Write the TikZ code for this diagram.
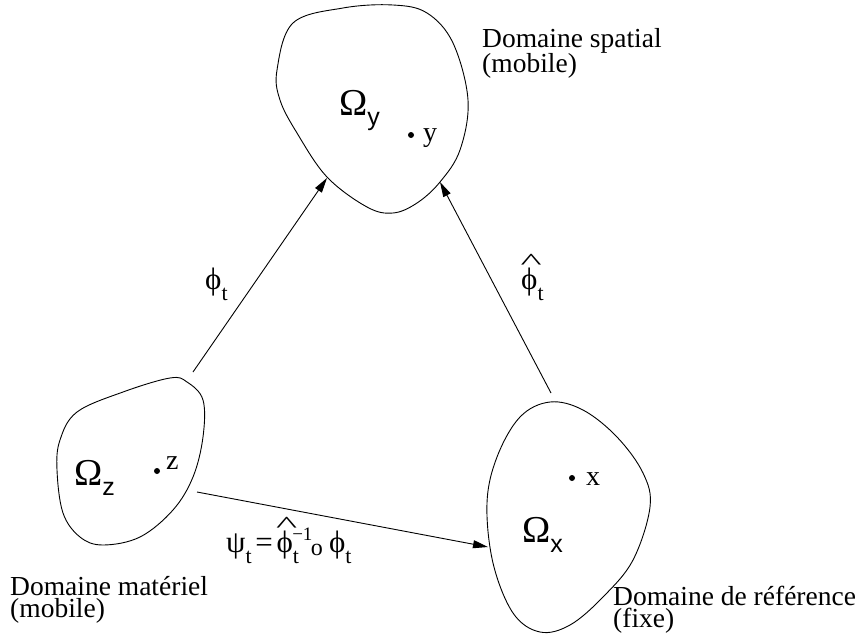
\documentclass[tikz,border=0pt]{standalone}
\usepackage{fontspec}
\setmainfont{Liberation Serif}
\newfontfamily\lsans{Liberation Sans}
\usetikzlibrary{arrows.meta}
\newcommand\subsans[1]{\raisebox{-0.28em}{\lsans\fontsize{25}{25}\selectfont #1}}
\newcommand\subt{\raisebox{-0.36em}{\fontsize{22}{22}\selectfont t}}
\newcommand\hatphi{\leavevmode\rlap{\raisebox{0.64em}{\hspace{-0.02em}\scalebox{1.45}[0.75]{\textasciicircum}}}ϕ}
\tikzset{
  blob/.style={draw, line width=0.9pt},
  conn/.style={draw, line width=0.9pt, -{Triangle[length=15pt,width=8pt]}},
  txt/.style={inner sep=0pt, anchor=base west, font=\fontsize{27.5}{21.5}\selectfont, align=left},
  omega/.style={inner sep=0pt, anchor=base west, font=\fontsize{38}{38}\selectfont},
  ptlab/.style={inner sep=0pt, anchor=base west, font=\fontsize{28}{28}\selectfont},
  maplab/.style={inner sep=0pt, anchor=base west, font=\fontsize{31}{31}\selectfont},
  dotm/.style={circle, fill, inner sep=0pt, minimum size=6pt}
}
\begin{document}
\begin{tikzpicture}[x=1pt,y=-1pt]
\useasboundingbox (0,0) rectangle (864,642);
% spatial domain (top)
\draw[blob] plot[smooth cycle, tension=0.6] coordinates {
 (277,70) (293,23) (343,8) (393,5) (427,13) (453,43) (468,100) (460,150)
 (440,182) (417,203) (393,213) (367,207) (327,177) (297,133) (280,100)};
% material domain (left)
\draw[blob] plot[smooth cycle, tension=0.6] coordinates {
 (77,412) (60,440) (57,470) (63,513) (80,537) (103,545) (140,537) (173,510)
 (193,477) (203,437) (203,400) (187,382) (170,378) (123,392)};
% reference domain (right)
\draw[blob] plot[smooth cycle, tension=0.6] coordinates {
 (550,402) (520,417) (497,457) (487,503) (493,563) (513,613) (540,632)
 (570,625) (603,597) (633,560) (650,507) (643,473) (617,437) (583,410)};

% connector end points
\coordinate (zup) at (193,372);
\coordinate (zright) at (197,492);
\coordinate (yleft) at (327,178);
\coordinate (yright) at (440,182);
\coordinate (xleft) at (488,547);
\coordinate (xup) at (551,393);
\draw[conn] (zup) -- (yleft);
\draw[conn] (xup) -- (yright);
\draw[conn] (zright) -- (xleft);

% labels in domains
\node[omega] (oy) at (339,115) {Ω\subsans{y}};
\node[dotm] (dy) at (411,135) {};
\node[ptlab] (ly) at (423,141) {y};
\node[omega] (oz) at (74,485) {Ω\subsans{z}};
\node[dotm] (dz) at (157,471) {};
\node[ptlab] (lz) at (166,469) {z};
\node[omega] (ox) at (522,542) {Ω\subsans{x}};
\node[dotm] (dx) at (572,478) {};
\node[ptlab] (lx) at (586,485) {x};

% map labels
\node[maplab] (phit) at (205,289) {ϕ\subt};
\node[maplab] (phihat) at (521,289) {\hatphi\subt};
\node[maplab] (psi) at (226,552) {ψ\subt\hspace{0.12em}=\hspace{0.12em}\hatphi\subt\hspace{-0.22em}\raisebox{0.36em}{\fontsize{19}{19}\selectfont −1}\hspace{-0.05em}\raisebox{-0.1em}{\fontsize{24}{24}\selectfont o}\hspace{0.2em}ϕ\subt};

% domain names
\node[txt] (ns) at (482,73) {Domaine spatial\\(mobile)};
\node[txt] (nm) at (10,617) {Domaine matériel\\(mobile)};
\node[txt] (nr) at (613,627) {Domaine de référence\\(fixe)};
\end{tikzpicture}
\end{document}
